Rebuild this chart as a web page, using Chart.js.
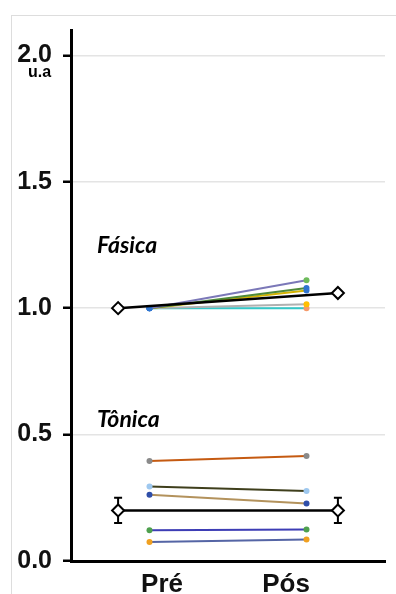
<!DOCTYPE html>
<html>
<head>
<meta charset="utf-8">
<script src="https://cdn.jsdelivr.net/npm/chart.js@4"></script>
<style>
  html, body { margin: 0; padding: 0; background: #fff; }
  #wrap { position: relative; width: 396px; height: 594px; }
  #frame { position: absolute; left: 11px; top: 15px; right: 0; bottom: 0;
           border-top: 1px solid #ddd; border-left: 1px solid #ddd; }
  canvas { position: absolute; left: 0; top: 0; }
</style>
</head>
<body>
<div id="wrap">
  <div id="frame"></div>
  <canvas id="myChart" width="396" height="594"></canvas>
</div>
<script>
// categories and ticks
const xCats = ['Pré', 'Pós']
const yTicks = [0, 0.5, 1.0, 1.5, 2.0]

// Fásica individual values (Pré, Pós)
const fasPre = [1.00, 1.00, 1.00, 1.00, 1.00]
const fasPos = [1.11, 1.08, 1.07, 1.015, 1.00]
const fasLine = ['#7b78b8', '#4f8a3a', '#d4b300', '#b0b0b0', '#35c7c7']
const fasPtPre = ['#2f75d0', '#2f75d0', '#2f75d0', '#2f75d0', '#2f75d0']
const fasPtPos = ['#6dbb5a', '#2f75d0', '#2f75d0', '#ffbf00', '#f59a6a']

// Tônica individual values (Pré, Pós)
const tonPre = [0.395, 0.295, 0.262, 0.122, 0.075]
const tonPos = [0.415, 0.277, 0.227, 0.125, 0.085]
const tonLine = ['#c55a11', '#3f3f1c', '#b3925c', '#3d3db5', '#5565a5']
const tonPtPre = ['#8a8a8a', '#9ec8ef', '#2f4ea8', '#4ea04e', '#f0a020']
const tonPtPos = ['#8a8a8a', '#9ec8ef', '#2f4ea8', '#4ea04e', '#f0a020']

// means (Pré, Pós) and error (±)
const fasMean = [1.00, 1.06]
const tonMean = [0.20, 0.20]
const tonErr = [0.05, 0.05]

const ptX = [1, 2]        // individual points
const meanX = [0.8, 2.2]  // mean diamonds
const labelX = [1.08, 1.87]

function pairData (vals) {
  return vals.map((v, i) => ({ x: ptX[i], y: v }))
}

const meanStyle = {
  borderColor: '#000', borderWidth: 2.5, pointStyle: 'rectRot',
  pointRadius: 6, pointBorderWidth: 2, pointBackgroundColor: '#fff',
  pointBorderColor: '#000', order: 0
}
const datasets = [
  { ...meanStyle, data: fasMean.map((v, i) => ({ x: meanX[i], y: v })) },
  { ...meanStyle, data: tonMean.map((v, i) => ({ x: meanX[i], y: v })) }
]
for (let i = 0; i < fasPre.length; i++) {
  datasets.push({
    data: pairData([fasPre[i], fasPos[i]]),
    borderColor: fasLine[i], borderWidth: 2,
    pointRadius: 3, pointBorderWidth: 0,
    pointBackgroundColor: [fasPtPre[i], fasPtPos[i]], order: 1
  })
}
for (let i = 0; i < tonPre.length; i++) {
  datasets.push({
    data: pairData([tonPre[i], tonPos[i]]),
    borderColor: tonLine[i], borderWidth: 2,
    pointRadius: 3, pointBorderWidth: 0,
    pointBackgroundColor: [tonPtPre[i], tonPtPos[i]], order: 1
  })
}

const extras = {
  id: 'extras',
  beforeDatasetsDraw (chart) {
    const { ctx, scales: { x, y } } = chart
    ctx.save()
    ctx.strokeStyle = '#000'
    ctx.lineWidth = 2
    tonMean.forEach((m, i) => {
      const px = x.getPixelForValue(meanX[i])
      const top = y.getPixelForValue(m + tonErr[i])
      const bot = y.getPixelForValue(m - tonErr[i])
      ctx.beginPath()
      ctx.moveTo(px, top); ctx.lineTo(px, bot)
      ctx.moveTo(px - 4, top); ctx.lineTo(px + 4, top)
      ctx.moveTo(px - 4, bot); ctx.lineTo(px + 4, bot)
      ctx.stroke()
    })
    ctx.restore()
  },
  afterDraw (chart) {
    const { ctx } = chart
    ctx.save()
    ctx.fillStyle = '#000'
    ctx.textBaseline = 'alphabetic'
    ctx.font = 'italic bold 23px Lato, "Open Sans", sans-serif'
    ctx.fillText('Fásica', 97, 253)
    ctx.fillText('Tônica', 97, 427)
    ctx.font = 'bold 16px "Liberation Sans", Arial, sans-serif'
    ctx.fillText('u.a', 28, 77)
    ctx.restore()
  }
}

const ctx = document.getElementById('myChart')
const chart = new Chart(ctx, {
  type: 'line',
  data: { datasets },
  plugins: [extras],
  options: {
    responsive: false,
    animation: false,
    layout: { padding: { top: 30, right: 11, left: 0, bottom: 0 } },
    plugins: { legend: { display: false }, tooltip: { enabled: false } },
    scales: {
      x: {
        type: 'linear', min: 0.5, max: 2.5,
        afterBuildTicks: axis => { axis.ticks = labelX.map(v => ({ value: v })) },
        afterFit: axis => { axis.height = 33 },
        grid: { display: false },
        border: { color: '#000', width: 3 },
        ticks: {
          color: '#111', padding: 0, maxRotation: 0,
          font: { family: '"Liberation Sans", Arial', size: 26, weight: 'bold' },
          callback: (v, i) => xCats[i]
        }
      },
      y: {
        min: 0, max: 2.1,
        afterBuildTicks: axis => { axis.ticks = yTicks.map(v => ({ value: v })) },
        afterFit: axis => { axis.width = 71 },
        grid: {
          color: ctx => ctx.tick && ctx.tick.value === 0 ? 'rgba(0,0,0,0)' : '#e4e4e4',
          lineWidth: 1.5, tickColor: '#000', tickWidth: 2.5, tickLength: 8
        },
        border: { color: '#000', width: 3 },
        ticks: {
          color: '#111', padding: 11,
          font: { family: '"Liberation Sans", Arial', size: 25, weight: 'bold' },
          callback: v => v.toFixed(1)
        }
      }
    }
  }
})
</script>
</body>
</html>
